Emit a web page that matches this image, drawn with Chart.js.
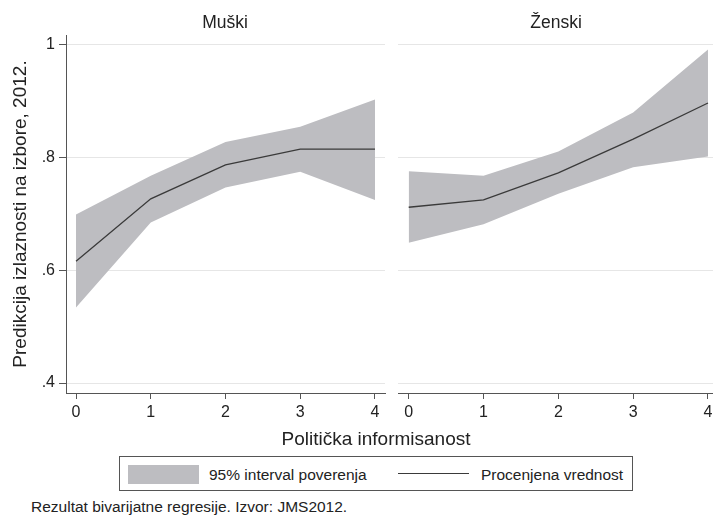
<!DOCTYPE html>
<html>
<head>
<meta charset="utf-8">
<script src="https://cdn.jsdelivr.net/npm/chart.js@4.4.1/dist/chart.umd.min.js"></script>
<style>
  html, body { margin: 0; padding: 0; background: #fff; }
  body { width: 713px; height: 516px; position: relative; overflow: hidden;
         font-family: 'Liberation Sans', Arial, sans-serif; color: #222; }
  .abs { position: absolute; line-height: 1; white-space: nowrap; }
  .panelTitle { font-size: 17.5px; transform: translateX(-50%); top: 14px; }
  #legend { left: 119px; top: 456px; width: 512px; height: 33px; border: 1px solid #555; }
  #legend span { position: absolute; font-size: 15.5px; top: 10px; line-height: 1; white-space: nowrap; }
</style>
</head>
<body>
<div class="abs" style="left:0;top:0"><canvas id="muski" width="390" height="430"></canvas></div>
<div class="abs" style="left:398px;top:0"><canvas id="zenski" width="320" height="430"></canvas></div>
<div class="abs panelTitle" style="left:225px">Muški</div>
<div class="abs panelTitle" style="left:556px">Ženski</div>
<div class="abs" style="left:376px;top:428.5px;font-size:19px;transform:translateX(-50%)">Politička informisanost</div>
<div id="legend" class="abs">
  <div class="abs" style="left:8px;top:8px;width:71px;height:19px;background:#bdbdc1"></div>
  <span style="left:89px">95% interval poverenja</span>
  <div class="abs" style="left:278px;top:16px;width:71px;height:1.3px;background:#3a3a3a"></div>
  <span style="left:361px">Procenjena vrednost</span>
</div>
<div class="abs" style="left:31px;top:499px;font-size:15.5px">Rezultat bivarijatne regresije. Izvor: JMS2012.</div>

<script>
// Politička informisanost (0-4)
const informisanost = [0, 1, 2, 3, 4];
const xTickLabels = ['0', '1', '2', '3', '4'];
const yTickValues = [0.4, 0.6, 0.8, 1];
const yTickLabels = ['.4', '.6', '.8', '1'];

// Muški
const muskiFit   = [0.616, 0.727, 0.787, 0.815, 0.815];
const muskiUpper = [0.699, 0.768, 0.828, 0.855, 0.903];
const muskiLower = [0.534, 0.685, 0.747, 0.775, 0.725];

// Ženski
const zenskiFit   = [0.712, 0.725, 0.773, 0.833, 0.897];
const zenskiUpper = [0.776, 0.768, 0.811, 0.880, 0.992];
const zenskiLower = [0.649, 0.682, 0.736, 0.783, 0.802];

const FONT = "'Liberation Sans', Arial, sans-serif";
const BAND = '#bdbdc1';
const LINE = '#3a3a3a';
const AXIS = '#555555';
const GRID = '#e6e6e6';

function pts(ys) {
    return informisanost.map((x, i) => ({ x, y: ys[i] }));
}

function makePanel(canvasId, fit, upper, lower, showY) {
    const ctx = document.getElementById(canvasId);
    return new Chart(ctx, {
        type: 'line',
        data: {
            datasets: [
                { data: pts(fit), borderColor: LINE, borderWidth: 1.3, pointRadius: 0, fill: false, tension: 0 },
                { data: pts(lower), borderWidth: 0, pointRadius: 0, fill: false, tension: 0 },
                { data: pts(upper), borderWidth: 0, pointRadius: 0, fill: '-1', backgroundColor: BAND, tension: 0 },
            ],
        },
        options: {
            responsive: false,
            animation: false,
            layout: { padding: { top: 35, right: showY ? 5 : 0, left: 0, bottom: 0 } },
            plugins: { legend: { display: false }, tooltip: { enabled: false } },
            scales: {
                x: {
                    type: 'linear',
                    min: showY ? -0.134 : -0.143,
                    max: 4.134,
                    afterBuildTicks: (s) => { s.ticks = informisanost.map(v => ({ value: v })); },
                    afterFit: (s) => { s.height = 430 - 393; },
                    ticks: {
                        callback: (v) => xTickLabels[informisanost.indexOf(v)],
                        font: { family: FONT, size: 16 }, color: '#222', padding: 4, maxRotation: 0,
                    },
                    grid: { drawOnChartArea: false, drawTicks: true, tickLength: 6, tickColor: AXIS },
                    border: { display: true, color: AXIS, width: 1 },
                },
                y: {
                    min: 0.3823,
                    max: 1.0177,
                    afterBuildTicks: (s) => { s.ticks = yTickValues.map(v => ({ value: v })); },
                    afterFit: (s) => { s.width = showY ? 66 : 0; },
                    ticks: {
                        display: showY,
                        callback: (v) => yTickLabels[yTickValues.indexOf(v)],
                        font: { family: FONT, size: 16 }, color: '#222', padding: 4,
                    },
                    title: {
                        display: showY,
                        text: 'Predikcija izlaznosti na izbore, 2012.',
                        font: { family: FONT, size: 19 }, color: '#222',
                        padding: { top: 9, bottom: 0 },
                    },
                    grid: { color: GRID, lineWidth: 1, drawTicks: showY, tickLength: 7, tickColor: AXIS },
                    border: { display: showY, color: AXIS, width: 1 },
                },
            },
        },
    });
}

makePanel('muski', muskiFit, muskiUpper, muskiLower, true);
makePanel('zenski', zenskiFit, zenskiUpper, zenskiLower, false);
</script>
</body>
</html>
